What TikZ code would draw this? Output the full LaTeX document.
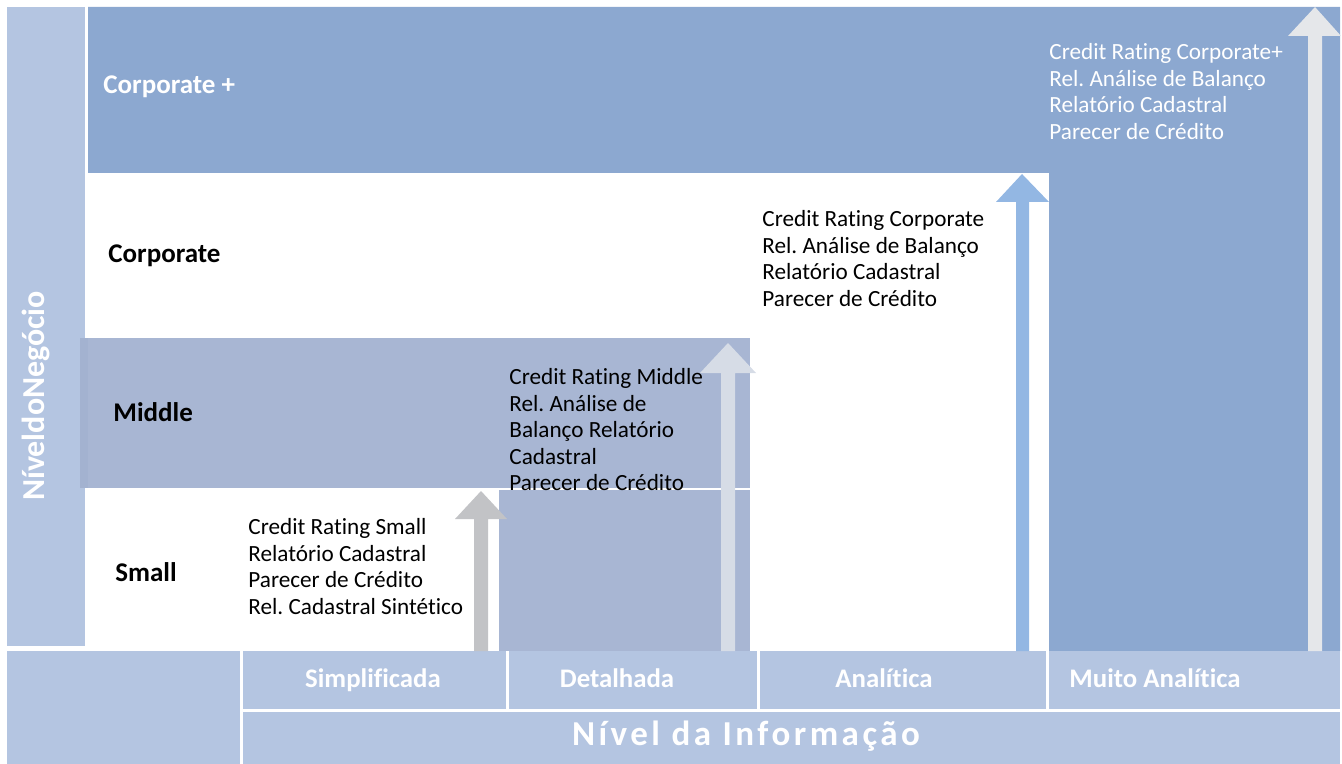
\documentclass[tikz,border=0pt]{standalone}
\usepackage{fontspec}
\setmainfont{Carlito}[Ligatures={NoCommon}]
\frenchspacing

\definecolor{lightband}{HTML}{B4C5E1}
\definecolor{darkband}{HTML}{8CA8D0}
\definecolor{midband}{HTML}{A8B6D3}
\definecolor{midedge}{HTML}{A3B2D0}
\definecolor{smallarrow}{HTML}{C2C3C6}
\definecolor{midarrow}{HTML}{D6DCE6}
\definecolor{corparrow}{HTML}{93B7E3}
\definecolor{plusarrow}{HTML}{E5E7EA}

\begin{document}
\begin{tikzpicture}[x=0.5pt,y=-0.5pt,
    listtext/.style={anchor=north west,align=left,inner sep=0pt,font=\fontsize{11.6}{13.3}\selectfont},
    bandlabel/.style={anchor=base west,inner sep=0pt,font=\fontsize{13.5}{15}\selectfont\bfseries},
    axislabel/.style={anchor=base,text=white,inner sep=0pt,font=\fontsize{13.4}{15}\selectfont\bfseries}]
   \useasboundingbox (0,0) rectangle (1342,764);

   % bands of the business levels
   \fill[lightband] (7,7) rectangle (85,646);
   \fill[darkband] (88,7) -- (1340,7) -- (1340,651) -- (1049,651) -- (1049,173) -- (88,173) -- cycle;
   \fill[midedge] (80,338) rectangle (88,488);
   \fill[midband] (88,338) rectangle (750,488);
   \fill[midband] (499,490) rectangle (750,651);

   % axis cells
   \fill[lightband] (7,651) rectangle (240,764);
   \fill[lightband] (243,651) rectangle (506,709);
   \fill[lightband] (509,651) rectangle (757,709);
   \fill[lightband] (760,651) rectangle (1046,709);
   \fill[lightband] (1049,651) rectangle (1340,709);
   \fill[lightband] (243,712) rectangle (1340,764);

   % block arrows
   \fill[smallarrow] (474,651) -- (474,519) -- (455,519) -- (481,491) -- (507,519) -- (488,519) -- (488,651) -- cycle;
   \fill[midarrow] (721,651) -- (721,373) -- (700,373) -- (728,343) -- (756,373) -- (735,373) -- (735,651) -- cycle;
   \fill[corparrow] (1016,651) -- (1016,202) -- (996,202) -- (1022,174) -- (1049,202) -- (1029,202) -- (1029,651) -- cycle;
   \fill[plusarrow] (1308,651) -- (1308,36) -- (1288,36) -- (1315,7) -- (1341,36) -- (1322,36) -- (1322,651) -- cycle;

   \node[bandlabel,text=white] (cplus) at (103,94) {Corporate +};
   \node[bandlabel] (corp) at (108,263) {Corporate};
   \node[bandlabel] (mid) at (113,421) {Middle};
   \node[bandlabel] (small) at (115,581) {Small};

   \node[listtext] (smalllist) at (248,518) {Credit Rating Small\\Relatório Cadastral\\Parecer de Crédito\\Rel. Cadastral Sintético};
   \node[listtext] (midlist) at (509,368) {Credit Rating Middle\\Rel. Análise de\\Balanço Relatório\\Cadastral\\Parecer de Crédito};
   \node[listtext] (corplist) at (762,210) {Credit Rating Corporate\\Rel. Análise de Balanço\\Relatório Cadastral\\Parecer de Crédito};
   \node[listtext,text=white] (pluslist) at (1049,43) {Credit Rating Corporate+\\Rel. Análise de Balanço\\Relatório Cadastral\\Parecer de Crédito};

   \node[axislabel] (simp) at (373,687) {Simplificada};
   \node[axislabel] (det) at (617,687) {Detalhada};
   \node[axislabel] (anal) at (884,687) {Analítica};
   \node[axislabel] (muito) at (1155,687) {Muito Analítica};
   \node[axislabel,font=\fontsize{17.5}{19}\selectfont\bfseries\addfontfeatures{LetterSpace=10}] (info) at (746,745) {Nível  da  Informação};
   \node[axislabel,anchor=center,rotate=90,font=\fontsize{16}{18}\selectfont\bfseries] (negocio) at (36,396) {NíveldoNegócio};
\end{tikzpicture}
\end{document}
